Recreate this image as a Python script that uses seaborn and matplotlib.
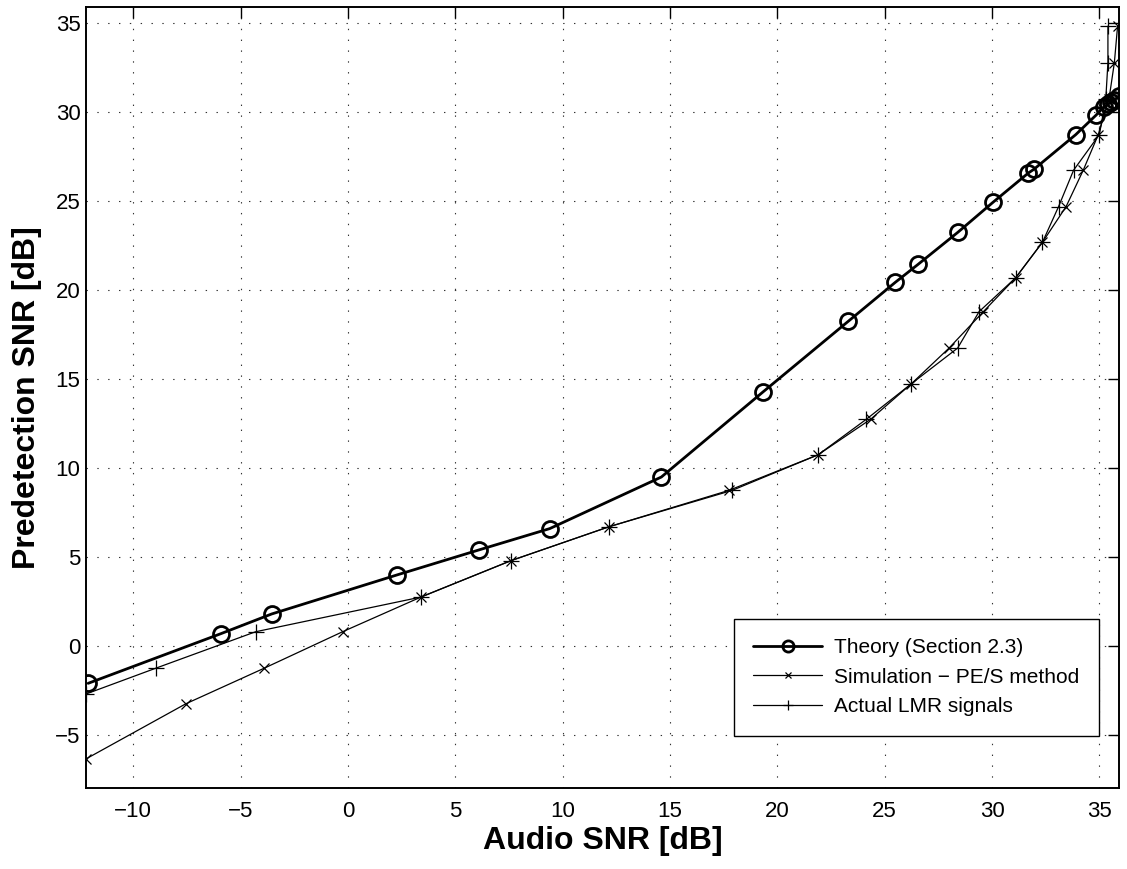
import matplotlib
matplotlib.use("Agg")
import matplotlib.pyplot as plt
import seaborn as sns

# Theory curve (Section 2.3)
theory_x = [-12.1, -5.9, -3.55, 2.3, 6.1, 9.4, 14.6, 19.35, 23.3, 25.5, 26.55,
            28.4, 30.05, 31.7, 31.95, 33.9, 34.85, 35.2, 35.4, 35.55, 35.7, 35.9]
theory_y = [-2.1, 0.7, 1.8, 4.0, 5.4, 6.6, 9.5, 14.3, 18.25, 20.45, 21.45,
            23.25, 24.95, 26.6, 26.8, 28.75, 29.85, 30.3, 30.45, 30.6, 30.7, 30.9]

# Simulation, PE/S method
sim_x = [-12.2, -7.55, -3.9, -0.25, 3.4, 7.6, 12.15, 17.75, 21.9, 24.35, 26.25,
         28.0, 29.6, 31.1, 32.35, 33.45, 34.25, 34.95, 35.45, 35.7, 35.85]
sim_y = [-6.35, -3.25, -1.25, 0.8, 2.75, 4.8, 6.7, 8.75, 10.75, 12.75, 14.75,
         16.75, 18.8, 20.7, 22.7, 24.7, 26.75, 28.75, 30.75, 32.8, 34.85]

# Actual LMR signals
lmr_x = [-12.2, -8.95, -4.3, 3.4, 7.6, 12.15, 17.9, 21.9, 24.15, 26.25, 28.4,
         29.4, 31.1, 32.35, 33.1, 33.8, 35.0, 35.3, 35.4, 35.4]
lmr_y = [-2.7, -1.25, 0.8, 2.75, 4.8, 6.7, 8.75, 10.75, 12.75, 14.75, 16.75,
         18.8, 20.7, 22.7, 24.7, 26.75, 28.75, 30.75, 32.8, 34.85]

x_ticks = [-10, -5, 0, 5, 10, 15, 20, 25, 30, 35]
y_ticks = [-5, 0, 5, 10, 15, 20, 25, 30, 35]

sns.set_style("white")
plt.rcParams["font.family"] = ["Liberation Sans", "DejaVu Sans"]
plt.rcParams["lines.scale_dashes"] = False
plt.rcParams["text.color"] = "k"
plt.rcParams["axes.labelcolor"] = "k"

fig = plt.figure(figsize=(11.27, 8.69), dpi=100)
ax = fig.add_axes([0.0763, 0.0929, 0.9163, 0.8985])

sns.lineplot(x=theory_x, y=theory_y, sort=False, estimator=None, ax=ax,
             color="k", linewidth=2.0, marker="o", markersize=11.5,
             markerfacecolor="none", markeredgecolor="k", markeredgewidth=2.0,
             label="Theory (Section 2.3)")
sns.lineplot(x=sim_x, y=sim_y, sort=False, estimator=None, ax=ax,
             color="k", linewidth=0.9, marker="x", markersize=6.5,
             markeredgecolor="k", markeredgewidth=0.9,
             label="Simulation \u2212 PE/S method")
sns.lineplot(x=lmr_x, y=lmr_y, sort=False, estimator=None, ax=ax,
             color="k", linewidth=0.9, marker="+", markersize=11,
             markeredgecolor="k", markeredgewidth=0.9,
             label="Actual LMR signals")

ax.set_xlim(-12.2, 35.9)
ax.set_ylim(-8.0, 35.9)
ax.set_xticks(x_ticks)
ax.set_yticks(y_ticks)

ax.grid(True, color="0.2", linestyle=(0, (1.0, 6.8)), linewidth=0.8)
ax.tick_params(direction="in", length=8, width=1, top=True, right=True,
               labelsize=16, colors="k")
ax.tick_params(axis="x", pad=9)
ax.tick_params(axis="y", pad=4)
for s in ax.spines.values():
    s.set_visible(True)
    s.set_color("k")
    s.set_linewidth(1.4)

ax.set_xlabel("Audio SNR [dB]", fontsize=23, fontweight="bold", color="k")
ax.set_ylabel("Predetection SNR [dB]", fontsize=23, fontweight="bold", color="k")
ax.xaxis.set_label_coords(0.5, -0.048)
ax.yaxis.set_label_coords(-0.0426, 0.5)

leg = ax.legend(loc="lower right", bbox_to_anchor=(0.9806, 0.067),
                borderaxespad=0, fontsize=15, frameon=True, fancybox=False,
                handlelength=3.3, handletextpad=0.55, markerscale=0.7,
                labelspacing=0.5, borderpad=0.95)
leg.get_frame().set_edgecolor("k")
leg.get_frame().set_linewidth(1.0)
leg.get_frame().set_alpha(1.0)
for t in leg.get_texts():
    t.set_color("k")

fig.savefig("out.png", dpi=100, facecolor="white")
